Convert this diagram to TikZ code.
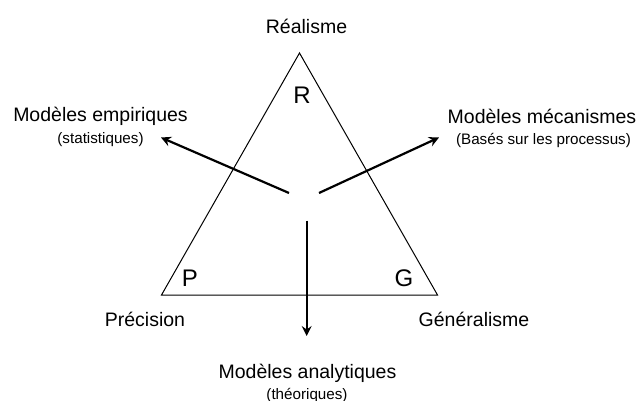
\documentclass[tikz,border=0pt]{standalone}
\usepackage{fontspec}
\setmainfont{Liberation Sans}
\usetikzlibrary{arrows.meta}
\begin{document}
\begin{tikzpicture}[x=1pt,y=-1pt,
  big/.style={font=\fontsize{19.5}{22}\selectfont, inner sep=0pt, anchor=base},
  small/.style={font=\fontsize{15.2}{17}\selectfont, inner sep=0pt, anchor=base},
  corner/.style={font=\fontsize{24}{26}\selectfont, inner sep=0pt, anchor=base},
  tri/.style={line width=1pt},
  arr/.style={line width=2.2pt, -{Stealth[length=10pt,width=10pt,inset=3.5pt]}}]
\useasboundingbox (0,0) rectangle (640,401);
\fill[white] (0,0) rectangle (640,401);
% triangle
\coordinate (A) at (299.5,53);
\coordinate (B) at (161.5,295);
\coordinate (C) at (437.5,295);
\draw[tri, line join=miter] (A) -- (B) -- (C) -- cycle;
% corner letters
\node[corner] (R) at (302,104) {R};
\node[corner] (P) at (190,286) {P};
\node[corner] (G) at (404,286) {G};
% labels
\node[big] (real) at (306.5,34) {Réalisme};
\node[big] (prec) at (145,326) {Précision};
\node[big] (gen) at (474,326) {Généralisme};
\node[big] (emp) at (100.5,122) {Modèles empiriques};
\node[small] (stat) at (100.5,144) {(statistiques)};
\node[big] (mec) at (542,124) {Modèles mécanismes};
\node[small] (proc) at (543.5,144.5) {(Basés sur les processus)};
\node[big] (ana) at (307.5,378) {Modèles analytiques};
\node[small] (theo) at (307,399) {(théoriques)};
% arrows
\coordinate (s1) at (289,193);
\coordinate (e1) at (161,137.5);
\coordinate (s2) at (319,193);
\coordinate (e2) at (439,137.5);
\coordinate (s3) at (306.7,220.5);
\coordinate (e3) at (306.7,336);
\draw[arr] (s1) -- (e1);
\draw[arr] (s2) -- (e2);
\draw[arr, line width=1.9pt] (s3) -- (e3);
\end{tikzpicture}
\end{document}
